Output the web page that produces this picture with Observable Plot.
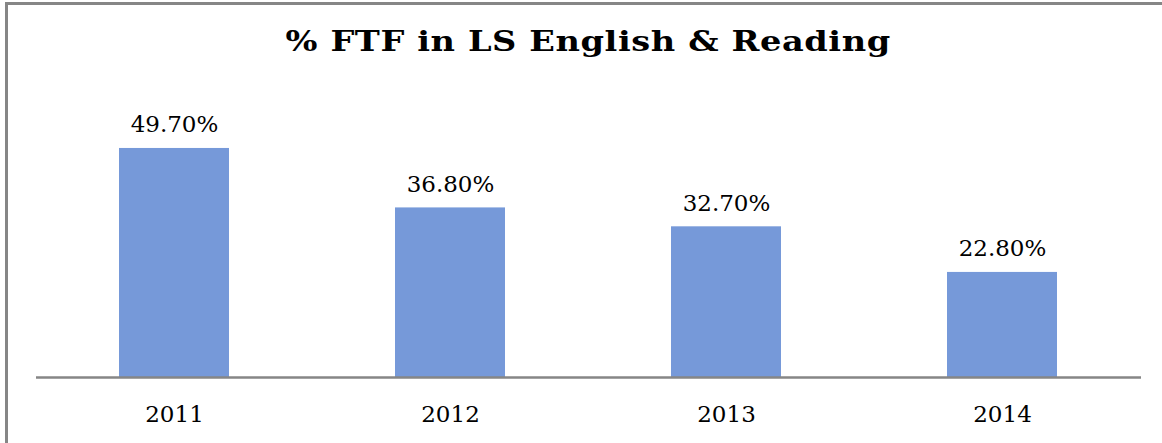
<!DOCTYPE html>
<html>
<head>
<meta charset="utf-8">
<script src="https://cdn.jsdelivr.net/npm/d3@7"></script>
<script src="https://cdn.jsdelivr.net/npm/@observablehq/plot@0.6"></script>
<style>
  html, body { margin: 0; padding: 0; background: #fff; overflow: hidden; }
  #frame { position: absolute; left: 5px; top: 2px; width: 1170px; height: 470px;
           border: 3px solid #868686; box-sizing: border-box; }
  #title { position: absolute; left: 0; top: 0; width: 1176px; height: 90px;
           padding-top: 28px; box-sizing: border-box; text-align: center; }
  #title span { display: inline-block; transform: scaleX(1.2); transform-origin: center;
           font-family: "DejaVu Serif", serif; font-weight: bold; font-size: 28px;
           letter-spacing: 0.5px; line-height: 28px; color: #000; }
  #chart { position: absolute; left: 0; top: 90px; }
</style>
</head>
<body>
<div id="frame"></div>
<div id="title"><span>% FTF in LS English &amp; Reading</span></div>
<div id="chart"></div>
<script>
const years = ["2011", "2012", "2013", "2014"];
const values = [49.7, 36.8, 32.7, 22.8];
const labels = ["49.70%", "36.80%", "32.70%", "22.80%"];

const data = years.map((y, i) => ({year: y, value: values[i], label: labels[i]}));

const chart = Plot.plot({
  width: 1162,
  height: 353,
  marginLeft: 36,
  marginRight: 21,
  marginTop: 10.5,
  marginBottom: 66,
  style: {fontFamily: "DejaVu Serif, serif", background: "transparent"},
  x: {domain: years, paddingInner: 0.6, paddingOuter: 0.3, axis: null},
  y: {domain: [0, 60], axis: null},
  marks: [
    Plot.barY(data, {x: "year", y: "value", fill: "#7699D9"}),
    Plot.ruleY([0], {stroke: "#868686", strokeWidth: 2.5}),
    Plot.text(data, {x: "year", y: "value", text: "label", dy: -23.4, fontSize: 23, fill: "#000"}),
    Plot.text(data, {x: "year", y: 0, text: "year", dy: 37.6, fontSize: 23, fill: "#000"})
  ]
});
document.getElementById("chart").appendChild(chart);
</script>
</body>
</html>
